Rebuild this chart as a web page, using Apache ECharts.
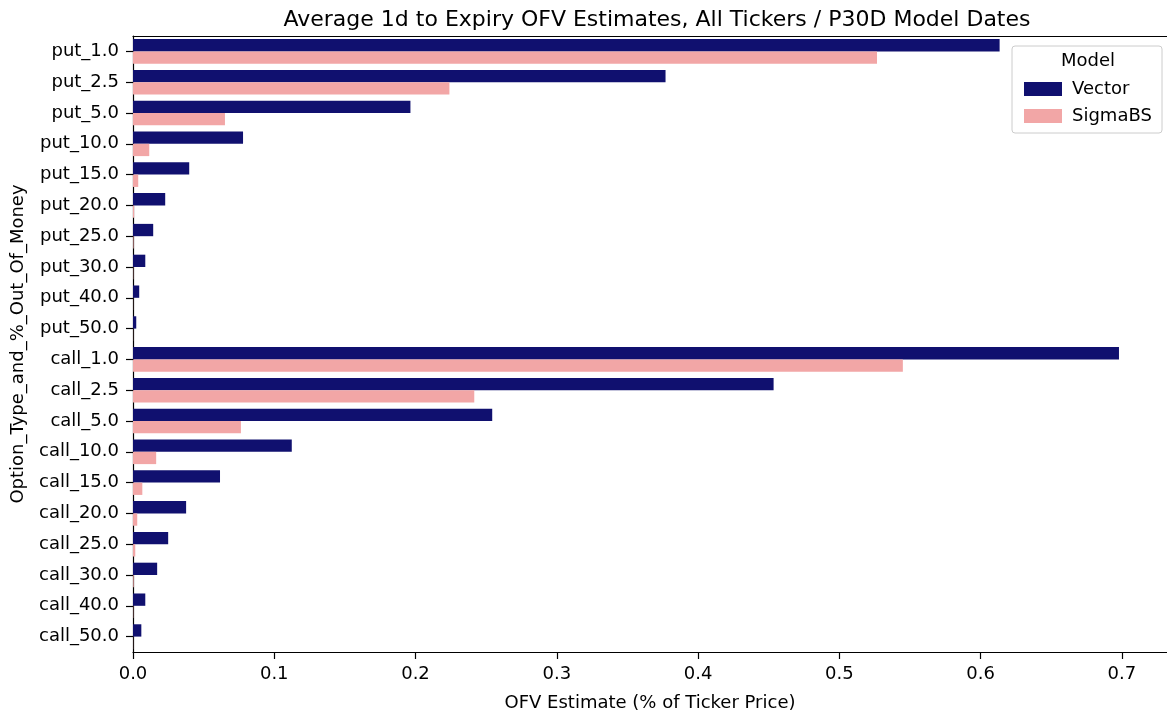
<!DOCTYPE html>
<html>
<head>
<meta charset="utf-8">
<script src="https://cdn.jsdelivr.net/npm/echarts@6/dist/echarts.min.js"></script>
<style>
html,body{margin:0;padding:0;background:#fff;}
#main{width:1167px;height:717px;}
</style>
</head>
<body>
<div id="main"></div>
<script>
const categories = ["put_1.0","put_2.5","put_5.0","put_10.0","put_15.0","put_20.0","put_25.0","put_30.0","put_40.0","put_50.0",
  "call_1.0","call_2.5","call_5.0","call_10.0","call_15.0","call_20.0","call_25.0","call_30.0","call_40.0","call_50.0"];
const vectorValues = [0.6135,0.377,0.1964,0.0779,0.0398,0.0228,0.0143,0.0087,0.0044,0.0023,
  0.698,0.4535,0.2543,0.1124,0.0616,0.0376,0.0249,0.0171,0.0087,0.0059];
const sigmaBSValues = [0.5267,0.224,0.0651,0.0115,0.0037,0.0008,0.0004,0.0002,0.0001,0.0001,
  0.545,0.2416,0.0764,0.0164,0.0066,0.003,0.0016,0.0005,0.0002,0.0001];
const xTicks = [0.0,0.1,0.2,0.3,0.4,0.5,0.6,0.7];

const FONT = 'DejaVu Sans';
const FS = 18;
const chart = echarts.init(document.getElementById('main'), null, {renderer:'canvas'});
chart.setOption({
  animation:false,
  backgroundColor:'#ffffff',
  textStyle:{fontFamily:FONT},
  title:{
    text:'Average 1d to Expiry OFV Estimates, All Tickers / P30D Model Dates',
    left:652, top:4, textAlign:'center',
    textStyle:{fontFamily:FONT,fontSize:22,fontWeight:'normal',color:'#000'}
  },
  grid:{left:133, top:36, width:1037, height:619, containLabel:false},
  legend:{
    orient:'vertical', left:1019, top:75,
    itemWidth:38, itemHeight:14, itemGap:9,
    icon:'rect',
    textStyle:{fontFamily:FONT,fontSize:FS,color:'#000',padding:[0,0,0,5]},
    data:['Vector','SigmaBS']
  },
  graphic:[
    {type:'rect', shape:{x:1012,y:46,width:150,height:87,r:3}, style:{fill:'rgba(255,255,255,0.8)',stroke:'#cccccc',lineWidth:1}, z:-1},
    {type:'text', left:1061, top:52, style:{text:'Model',font:'18px "DejaVu Sans"',fill:'#000'}}
  ],
  xAxis:[{
    type:'value', min:0, max:0.732, interval:0.1,
    name:'OFV Estimate (% of Ticker Price)', nameLocation:'middle', nameGap:42,
    nameTextStyle:{fontFamily:FONT,fontSize:FS,color:'#000'},
    axisLine:{show:true,lineStyle:{color:'#000',width:1.2}},
    axisTick:{show:true,length:7,lineStyle:{color:'#000',width:1.2}},
    axisLabel:{fontFamily:FONT,fontSize:FS,color:'#000',margin:13,showMaxLabel:false,
      formatter:v=>{const t=xTicks.find(x=>Math.abs(x-v)<1e-9);return t===undefined?'':t.toFixed(1);}},
    splitLine:{show:false}
  },{
    type:'value', position:'top', min:0, max:0.732,
    axisLine:{show:true,lineStyle:{color:'#000',width:1.2}},
    axisTick:{show:false}, axisLabel:{show:false}, splitLine:{show:false}
  }],
  yAxis:{
    type:'category', data:categories, inverse:true,
    name:'Option_Type_and_%_Out_Of_Money', nameLocation:'middle', nameGap:106,
    nameTextStyle:{fontFamily:FONT,fontSize:FS,color:'#000'},
    axisLine:{show:true,lineStyle:{color:'#000',width:1.2}},
    axisTick:{show:true,alignWithLabel:true,length:7,lineStyle:{color:'#000',width:1.2}},
    axisLabel:{fontFamily:FONT,fontSize:FS,color:'#000',margin:14,padding:[3,0,0,0]},
    splitLine:{show:false}
  },
  series:[
    {name:'Vector', type:'bar', data:vectorValues, barCategoryGap:'20%', barGap:'0%', itemStyle:{color:'#10106f'}},
    {name:'SigmaBS', type:'bar', data:sigmaBSValues, barCategoryGap:'20%', barGap:'0%', itemStyle:{color:'#f2a6a6'}}
  ]
});
</script>
</body>
</html>
